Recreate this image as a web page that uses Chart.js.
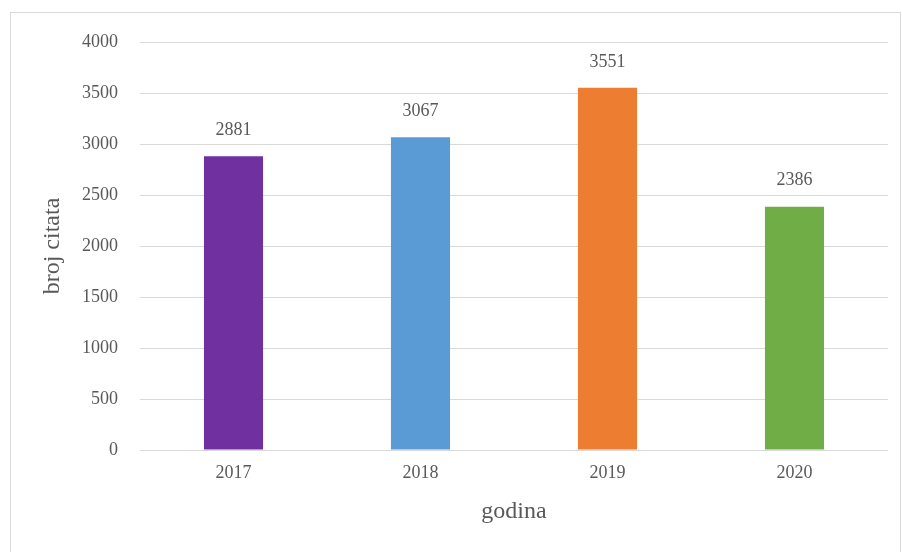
<!DOCTYPE html>
<html>
<head>
<meta charset="utf-8">
<script src="https://cdn.jsdelivr.net/npm/chart.js@4/dist/chart.umd.min.js"></script>
<style>
html,body{margin:0;padding:0;background:#fff;}
#wrap{position:absolute;left:0;top:0;width:902px;height:552px;}
</style>
</head>
<body>
<div id="wrap"><canvas id="c" width="902" height="552"></canvas></div>
<script>
const categories = ['2017', '2018', '2019', '2020'];
const values = [2881, 3067, 3551, 2386];
const barColors = ['#7030A0', '#5B9BD5', '#ED7D31', '#70AD47'];
const yTicks = [0, 500, 1000, 1500, 2000, 2500, 3000, 3500, 4000];
const xTitle = 'godina';
const yTitle = 'broj citata';

const FONT = "'Liberation Serif', 'DejaVu Serif', serif";
const TEXT = '#595959';

const frame = {
  id: 'frame',
  beforeDraw(chart) {
    const ctx = chart.ctx;
    ctx.save();
    ctx.fillStyle = '#fff';
    ctx.fillRect(0, 0, chart.width, chart.height);
    ctx.strokeStyle = '#d9d9d9';
    ctx.lineWidth = 1;
    ctx.strokeRect(10.5, 12.5, chart.width - 12, chart.height);
    ctx.restore();
  }
};

const dataLabels = {
  id: 'dataLabels',
  afterDatasetsDraw(chart) {
    const ctx = chart.ctx;
    ctx.save();
    ctx.font = '18px ' + FONT;
    ctx.fillStyle = TEXT;
    ctx.textAlign = 'center';
    ctx.textBaseline = 'bottom';
    chart.getDatasetMeta(0).data.forEach((bar, i) => {
      ctx.fillText(String(values[i]), bar.x, bar.y - 17);
    });
    ctx.restore();
  }
};

new Chart(document.getElementById('c'), {
  type: 'bar',
  data: {
    labels: categories,
    datasets: [{
      data: values,
      backgroundColor: barColors,
      borderWidth: 0,
      categoryPercentage: 1,
      barPercentage: 0.316
    }]
  },
  options: {
    responsive: false,
    animation: false,
    devicePixelRatio: 1,
    layout: { padding: { left: 0, right: 14, top: 42, bottom: 0 } },
    plugins: { legend: { display: false }, tooltip: { enabled: false } },
    scales: {
      x: {
        grid: { display: false, drawTicks: false },
        border: { display: false },
        ticks: { color: TEXT, font: { family: FONT, size: 18 }, padding: 12 },
        title: { display: true, text: xTitle, color: TEXT, font: { family: FONT, size: 24 }, padding: { top: 0, bottom: 26 } },
        afterFit(scale) { scale.height = 102; }
      },
      y: {
        min: 0,
        max: 4000,
        afterBuildTicks(scale) { scale.ticks = yTicks.map(v => ({ value: v })); },
        grid: { color: '#d9d9d9', lineWidth: 1, drawTicks: false },
        border: { display: false },
        ticks: { color: TEXT, font: { family: FONT, size: 18 }, padding: 22, callback: v => String(v) },
        title: { display: true, text: yTitle, color: TEXT, font: { family: FONT, size: 24 }, padding: { top: 38, bottom: 0 } },
        afterFit(scale) { scale.width = 140; }
      }
    }
  },
  plugins: [frame, dataLabels]
});
</script>
</body>
</html>
